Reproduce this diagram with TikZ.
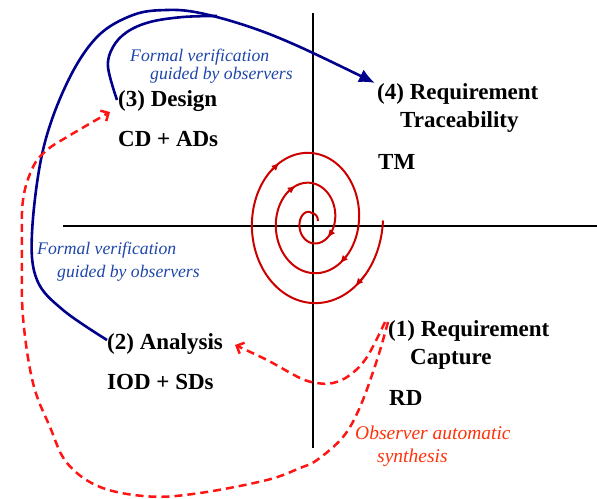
\documentclass[tikz,border=0pt]{standalone}
\usepackage{fontspec}
\setmainfont{Liberation Serif}
\usetikzlibrary{arrows.meta}
\definecolor{navy}{RGB}{0,0,140}
\definecolor{bluetext}{RGB}{30,70,170}
\definecolor{spiralred}{RGB}{205,0,0}
\definecolor{dashred}{RGB}{255,20,20}
\definecolor{orangered}{RGB}{255,50,10}
\pgfmathdeclarefunction{spx}{1}{\pgfmathparse{311.5+(71.5-#1/15)*cos(#1)}}
\pgfmathdeclarefunction{spy}{1}{\pgfmathparse{277.5-(90-#1/12)*sin(#1)}}
\tikzset{
  lab/.style={font=\fontsize{23}{28}\selectfont\bfseries, inner sep=0pt, anchor=base west},
  bluelab/.style={font=\fontsize{17.7}{22}\selectfont\itshape, text=bluetext, inner sep=0pt, anchor=base west},
  redlab/.style={font=\fontsize{19.5}{24}\selectfont\itshape, text=orangered, inner sep=0pt, anchor=base west},
  axis/.style={line width=2pt, black},
  spiral/.style={line width=2pt, spiralred},
  sparrow/.style={line width=1.5pt, spiralred, -{Latex[length=8pt,width=7pt]}},
  verif/.style={line width=2.6pt, navy},
  synth/.style={line width=2.5pt, dashred, dash pattern=on 8pt off 5pt},
}
\begin{document}
\begin{tikzpicture}[x=1pt,y=1pt]
\useasboundingbox (0,0) rectangle (597,498);
% axes
\draw[axis] (313,485) -- (313,50);
\draw[axis] (63,272) -- (597,272);
% spiral
\draw[spiral] plot[domain=0:990, samples=300, smooth, variable=\t] ({spx(\t)},{spy(\t)})
   to[out=0,in=90] (318,277);
\foreach \a in {50,235,410,600,760}
  \draw[sparrow] ({spx(\a-12)},{spy(\a-12)}) -- ({spx(\a)},{spy(\a)});
% labels
\node[lab] (d1) at (118,391) {(3) Design};
\node[lab] (d2) at (118,351) {CD + ADs};
\node[lab] (r4a) at (377,398) {(4) Requirement};
\node[lab] (r4b) at (400,370) {Traceability};
\node[lab] (tm) at (378,328) {TM};
\node[lab] (a1) at (107,148) {(2) Analysis};
\node[lab] (a2) at (107,108) {IOD + SDs};
\node[lab] (r1a) at (388,161) {(1) Requirement};
\node[lab] (r1b) at (410,133) {Capture};
\node[lab] (rd) at (389,92) {RD};
\node[bluelab] (bt1) at (130,436) {Formal verification};
\node[bluelab] (bt2) at (150,418) {guided by observers};
\node[bluelab] (bb1) at (37,243) {Formal verification};
\node[bluelab] (bb2) at (57,220) {guided by observers};
\node[redlab] (o1) at (355,58) {Observer automatic};
\node[redlab] (o2) at (377,35) {synthesis};
% formal verification (blue)
\draw[verif, -{Latex[length=16pt,width=14pt]}] plot[smooth, tension=0.6] coordinates {
  ([yshift=10pt]a1.base west) (63,188) (37,218) (32,265) (43,348) (67,415) (97,461)
  (133,483) (167,488) (200,485) (250,471) (300,451) ([xshift=-2pt,yshift=17pt]r4a.base west)};
\draw[verif] plot[smooth, tension=0.6] coordinates {
  ([xshift=-1pt,yshift=7pt]d1.base west) (108,431) (113,451) (127,466) (150,476) (183,481) (217,482)};
% observer synthesis (red dashed)
\draw[synth, -{Straight Barb[length=6pt,width=12pt]}] plot[smooth, tension=0.6] coordinates {
  ([xshift=-3pt,yshift=15pt]r1a.base west) (367,141) (350,123) (333,115) (317,115) (300,120)
  (267,138) ([xshift=12pt,yshift=5pt]a1.base east)};
\draw[synth, -{Straight Barb[length=6pt,width=12pt]}] plot[smooth, tension=0.6] coordinates {
  ([yshift=15pt]r1a.base west) (377,138) (360,91) (343,61) (317,38) (300,30) (267,18) (200,5)
  (150,1.5) (100,11) (67,35) (50,71) (33,115) (23,181) (22,248) (23,298) (33,331) (47,348)
  (67,361) ([xshift=-8pt,yshift=-5pt]d1.base west)};
\end{tikzpicture}
\end{document}
